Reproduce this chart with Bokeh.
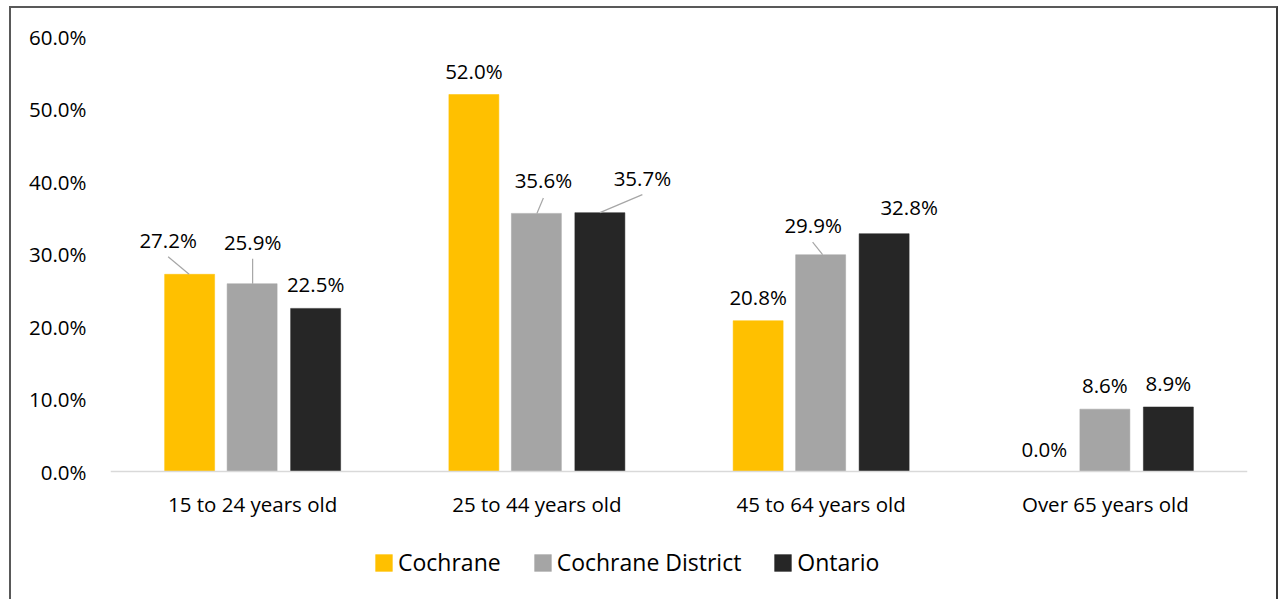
from bokeh.plotting import figure
from bokeh.models import (Range1d, FixedTicker, PrintfTickFormatter, Legend,
                          LegendItem, ColumnDataSource)
from bokeh.core.properties import value
from bokeh.embed import file_html
from bokeh.resources import INLINE

# ---------------- data ----------------
categories = ["15 to 24 years old", "25 to 44 years old",
              "45 to 64 years old", "Over 65 years old"]
series_names = ["Cochrane", "Cochrane District", "Ontario"]
cochrane = [27.2, 52.0, 20.8, 0.0]
cochrane_district = [25.9, 35.6, 29.9, 8.6]
ontario = [22.5, 35.7, 32.8, 8.9]
y_ticks = [0, 10, 20, 30, 40, 50, 60]

series_values = [cochrane, cochrane_district, ontario]

# ---------------- style / layout ----------------
colors = ["#FFC000", "#A5A5A5", "#262626"]
FONT = "Open Sans"
FRAME_W, FRAME_H = 1137, 563
PX_PER_UNIT_Y = 7.25
Y_MAX = 60
Y_MIN = Y_MAX - FRAME_H / PX_PER_UNIT_Y   # extra room below the axis for labels + legend
px_x = len(categories) / FRAME_W          # data units per pixel (x)
px_y = 1.0 / PX_PER_UNIT_Y                # data units per pixel (y)
offsets = [-63.0 * px_x, -0.5 * px_x, 63.0 * px_x]
bar_w = 50 * px_x

# label placement: (series, category) -> (dx px, dy px, leader start dx, leader end (dx, dy))
default_label = (0, -24, None, None)
label_layout = {
    (0, 0): (-21.5, -34, -0.5, (-21.5, -17.5)),
    (1, 0): (0.5, -42, 0.5, (0.5, -25)),
    (1, 1): (7, -33, 0.5, (7, -15.5)),
    (2, 1): (42.5, -34.5, 0, (42.5, -18)),
    (1, 2): (-7.5, -30, 2, (-8, -12.5)),
    (2, 2): (25, -27, None, None),
    (0, 3): (2, -23, None, None),
}

p = figure(frame_width=FRAME_W, frame_height=FRAME_H,
           x_range=Range1d(0, len(categories)), y_range=Range1d(Y_MIN, Y_MAX),
           output_backend="svg", toolbar_location=None,
           min_border_left=99, min_border_right=29,
           min_border_top=28, min_border_bottom=0,
           background_fill_color="white", border_fill_color="white")
p.outline_line_color = None
p.xgrid.visible = False
p.ygrid.visible = False

p.styles = {"margin-left": "9px", "margin-top": "6px",
            "border-left": "2px solid #595959",
            "border-top": "2px solid #595959",
            "border-right": "2px solid #3a3a3a"}

renderers = []
lab_x, lab_y, lab_t, lab_dx, lab_dy = [], [], [], [], []
seg_x0, seg_y0, seg_x1, seg_y1 = [], [], [], []
for s, vals in enumerate(series_values):
    xs = [i + 0.5 + offsets[s] for i in range(len(categories))]
    src = ColumnDataSource(dict(x=xs, top=vals))
    r = p.vbar(x="x", top="top", width=bar_w, bottom=0, source=src,
               fill_color=colors[s], line_color=colors[s], line_width=0.5)
    renderers.append(r)
    for i, v in enumerate(vals):
        dx, dy, ls, le = label_layout.get((s, i), default_label)
        lab_x.append(xs[i])
        lab_y.append(v)
        lab_t.append(f"{v:.1f}%")
        lab_dx.append(dx)
        lab_dy.append(dy)
        if ls is not None:
            seg_x0.append(xs[i] + ls * px_x)
            seg_y0.append(v)
            seg_x1.append(xs[i] + le[0] * px_x)
            seg_y1.append(v - le[1] * px_y)

p.segment(x0=seg_x0, y0=seg_y0, x1=seg_x1, y1=seg_y1,
          line_color="#A6A6A6", line_width=1.2)

p.text(x="x", y="y", text="t", x_offset="dx", y_offset="dy",
       source=ColumnDataSource(dict(x=lab_x, y=lab_y, t=lab_t, dx=lab_dx, dy=lab_dy)),
       text_font=value(FONT), text_font_size="20.5px", text_color="#000000",
       text_align="center", text_baseline="middle")

# axes
xa = p.xaxis[0]
xa.fixed_location = 0
xa.ticker = FixedTicker(ticks=[i + 0.5 for i in range(len(categories))])
xa.major_label_overrides = {i + 0.5: c for i, c in enumerate(categories)}
xa.axis_line_color = "#D9D9D9"
xa.axis_line_width = 1.5
xa.major_tick_line_color = None
xa.minor_tick_line_color = None
xa.major_label_standoff = 12
xa.major_label_text_font = FONT
xa.major_label_text_font_size = "20.5px"
xa.major_label_text_color = "#000000"

ya = p.yaxis[0]
ya.ticker = FixedTicker(ticks=y_ticks)
ya.formatter = PrintfTickFormatter(format="%.1f%%")
ya.axis_line_color = None
ya.major_tick_line_color = None
ya.minor_tick_line_color = None
ya.major_label_standoff = 18
ya.major_label_text_font = FONT
ya.major_label_text_font_size = "20.5px"
ya.major_label_text_color = "#000000"

legend = Legend(items=[LegendItem(label=n, renderers=[r]) for n, r in zip(series_names, renderers)],
                orientation="horizontal", location=(263, 21),
                glyph_width=21, glyph_height=21, label_standoff=4, spacing=31,
                padding=0, margin=0, border_line_color=None,
                background_fill_alpha=0,
                label_text_font=FONT, label_text_font_size="23px",
                label_text_color="#000000")
p.add_layout(legend, "center")

open("out.html", "w").write(file_html(p, INLINE))
